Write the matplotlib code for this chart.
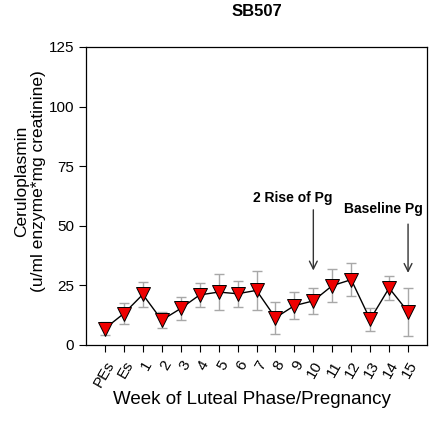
import matplotlib
matplotlib.use("Agg")
import matplotlib.pyplot as plt
import numpy as np

plt.rcParams['font.family'] = ['Liberation Sans', 'DejaVu Sans']

weeks = ["PEs", "Es", "1", "2", "3", "4", "5", "6", "7", "8", "9",
         "10", "11", "12", "13", "14", "15"]
mean = [6.8, 13.1, 21.1, 10.3, 15.2, 20.9, 22.1, 21.4, 22.8, 11.3, 16.4,
        18.4, 24.8, 27.3, 10.6, 23.8, 13.8]
err = [2.9, 4.6, 5.4, 3.3, 4.8, 5.1, 7.4, 5.4, 8.2, 6.7, 5.6,
       5.3, 7.0, 6.9, 4.7, 4.9, 10.0]

x = np.arange(len(weeks))

fig = plt.figure(figsize=(4.32, 4.21), dpi=100)
ax = fig.add_axes([86/432, 1-344.7/421, (427-86)/432, (344.7-47)/421])

ax.errorbar(x, mean, yerr=err, fmt='none', ecolor='#a8a8a8', elinewidth=1,
            capsize=3.5, capthick=1, zorder=1)
ax.plot(x, mean, color='black', lw=1, zorder=2)
ax.plot(x, mean, 'v', ms=10, mfc='#ee0000', mec='black', mew=0.7, zorder=3)

ax.set_xlim(-1, len(weeks))
ax.set_ylim(0, 125)
ax.set_yticks([0, 25, 50, 75, 100, 125])
ax.set_xticks(x)
ax.set_xticklabels(weeks, rotation=60, ha='right', rotation_mode='anchor')
ax.tick_params(labelsize=11, direction='out', length=5, width=0.8)
ax.tick_params(axis='x', pad=5)
for s in ax.spines.values():
    s.set_linewidth(0.9)

# arrows and notes
ax.annotate("", xy=(11, 30), xytext=(11, 57.8),
            arrowprops=dict(arrowstyle='->', color='#333333', lw=1,
                            mutation_scale=14))
ax.text(9.9, 61.5, "2 Rise of Pg", ha='center', va='center',
        fontsize=10, fontweight='bold')
ax.annotate("", xy=(16, 29), xytext=(16, 51.8),
            arrowprops=dict(arrowstyle='->', color='#333333', lw=1,
                            mutation_scale=14))
ax.text(14.7, 57, "Baseline Pg", ha='center', va='center',
        fontsize=10, fontweight='bold')

fig.text(257/432, 1-12/421, "SB507", ha='center', va='center',
         fontsize=12, fontweight='bold')
fig.text(252/432, 1-399/421, "Week of Luteal Phase/Pregnancy",
         ha='center', va='center', fontsize=13.5)
fig.text(30/432, 1-181/421, "Ceruloplasmin\n(u/ml enzyme*mg creatinine)",
         ha='center', va='center', rotation=90, fontsize=12.5,
         linespacing=1.15)

fig.savefig("out.png", dpi=100)
